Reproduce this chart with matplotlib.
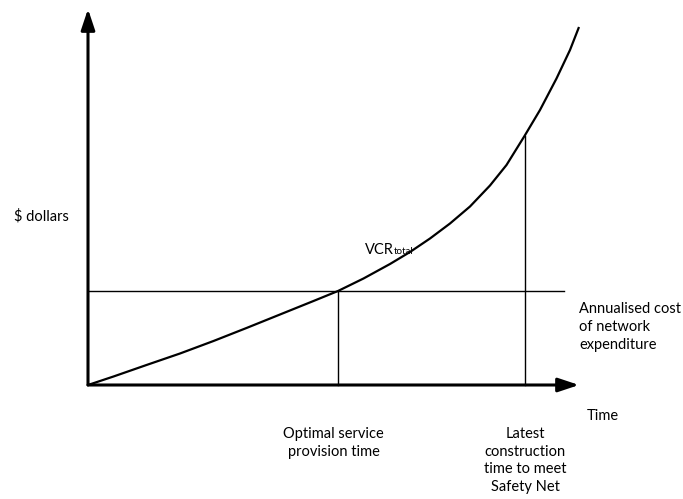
import matplotlib.pyplot as plt

plt.rcParams['font.family'] = ['Lato', 'DejaVu Sans']

# values (time units, dollar units; arbitrary scale)
curve_t = [0.0, 0.51, 1.17, 1.84, 2.51, 3.17, 3.84, 4.51, 5.0, 5.51, 6.04,
           6.44, 6.84, 7.24, 7.64, 8.04, 8.37, 8.73, 9.04, 9.37, 9.64, 9.82]
curve_v = [0.0, 0.17, 0.40, 0.63, 0.88, 1.14, 1.41, 1.68, 1.88, 2.13, 2.42,
           2.66, 2.93, 3.23, 3.57, 3.99, 4.40, 4.98, 5.50, 6.13, 6.70, 7.16]
cost_level = 1.88
cost_end = 9.51
t_opt = 5.0
t_latest = 8.73
latest_top = 4.98
x_axis_end = 9.82
y_axis_end = 7.52

fig = plt.figure(figsize=(6.83, 4.99), dpi=100)
ax = fig.add_axes([0, 0, 1, 1])
ax.set_xlim(-1.76, 11.9)
ax.set_ylim(-2.28, 7.7)
ax.axis('off')

# axes with arrows
arrow = dict(arrowstyle='-|>,head_length=0.9,head_width=0.3', lw=2.2,
             color='black', shrinkA=0, shrinkB=0, mutation_scale=14)
ax.annotate('', xy=(0, y_axis_end), xytext=(0, 0), arrowprops=arrow)
ax.annotate('', xy=(x_axis_end, 0), xytext=(0, 0), arrowprops=arrow)

# VCR curve
ax.plot(curve_t, curve_v, color='black', lw=1.6, solid_joinstyle='round',
        solid_capstyle='butt')

# annualised cost line + drop lines
ax.plot([0, cost_end], [cost_level, cost_level], color='black', lw=1.0)
ax.plot([t_opt, t_opt], [0, cost_level], color='black', lw=1.0)
ax.plot([t_latest, t_latest], [0, latest_top], color='black', lw=1.0)

fs = 10.5
ax.text(-1.48, 3.38, '$ dollars', fontsize=fs, ha='left', va='center')
vcr = ax.text(5.54, 2.7, 'VCR', fontsize=fs, ha='left', va='center')
ax.annotate('total', xy=(1, 0.05), xycoords=vcr, fontsize=7,
            ha='left', va='bottom')
ax.text(9.82, 1.16, 'Annualised cost\nof network\nexpenditure', fontsize=fs,
        ha='left', va='center', linespacing=1.38)
ax.text(10.3, -0.62, 'Time', fontsize=fs, ha='center', va='center')
ax.text(4.91, -1.16, 'Optimal service\nprovision time', fontsize=fs,
        ha='center', va='center', linespacing=1.32)
ax.text(8.74, -1.51, 'Latest\nconstruction\ntime to meet\nSafety Net',
        fontsize=fs, ha='center', va='center', linespacing=1.32)

fig.savefig('out.png', dpi=100)
